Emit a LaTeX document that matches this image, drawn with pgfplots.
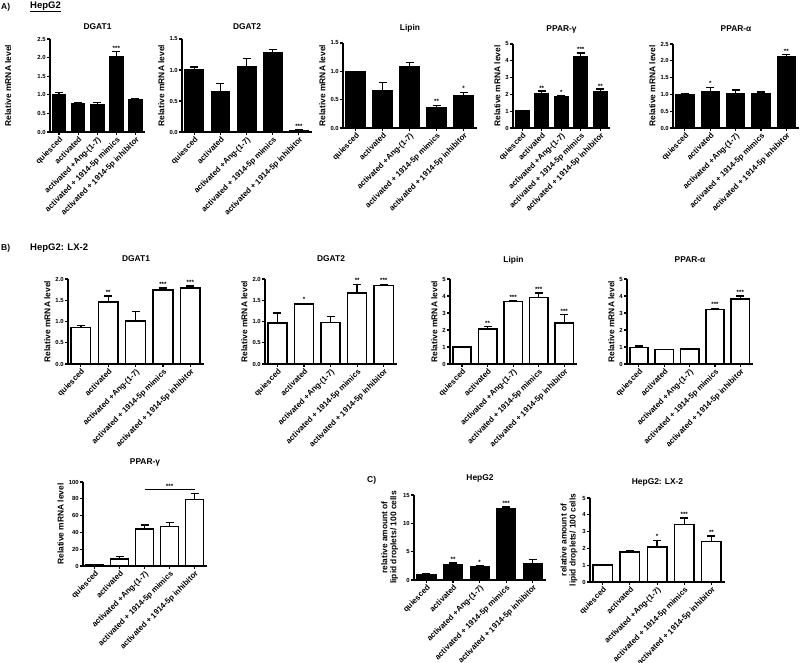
\documentclass[border=0pt]{standalone}
\usepackage{fontspec}
\setmainfont{Liberation Sans}
\usepackage{pgfplots}
\pgfplotsset{compat=1.18}
\newcommand{\st}[3]{\node[anchor=south,font=\fontsize{6.2}{6}\selectfont\bfseries,inner sep=0.6pt] at (axis cs:#1,#2) {#3};}
\pgfplotsset{
 gp/.style={
  scale only axis,
  anchor=south west,
  axis lines=left,
  axis line style={line width=1.4pt,-},
  every tick/.style={black,line width=1.1pt},
  tick align=outside,
  major tick length=2.6pt,
  xmin=-0.47, xmax=4.5, ymin=0,
  xtick={0,1,2,3,4},
  xticklabels={quiesced,activated,activated +Ang-(1-7),activated + 1914-5p mimics,activated + 1914-5p inhibitor},
  x tick label style={rotate=45,anchor=north east,font=\fontsize{7.9}{8}\selectfont\bfseries,inner sep=1pt},
  y tick label style={font=\fontsize{5.9}{6}\selectfont\bfseries,inner sep=1.5pt},
  /pgf/number format/assume math mode=true,
  ylabel={Relative mRNA level},
  ylabel style={font=\fontsize{8.4}{9}\selectfont\bfseries},
  title style={font=\fontsize{8.4}{9}\selectfont\bfseries,anchor=base,at={(0.5,1)}},
  clip=false,
  bar width=0.72,
 },
 ty/.style={title style={yshift=#1}},
 dec1/.style={yticklabel style={/pgf/number format/.cd,fixed,fixed zerofill,precision=1}},
 blk/.style={ybar,fill=black,draw=black,line width=1pt},
 wht/.style={ybar,fill=white,draw=black,line width=1.5pt},
 eb/.style={forget plot,draw=none,mark=none,
   error bars/.cd,y dir=plus,y explicit,
   error bar style={draw=black,line width=1.4pt,solid},
   error mark options={rotate=90,draw=black,line width=1.4pt,mark size=4pt,solid}},
}
\begin{document}
\begin{tikzpicture}
\path[use as bounding box] (0pt,0pt) rectangle (800pt,662pt);
\node[anchor=west,font=\fontsize{8.5}{9}\selectfont\bfseries,inner sep=0pt] at (1pt,655pt) {A)};
\node[anchor=west,font=\fontsize{9.5}{10}\selectfont\bfseries,inner sep=0pt] at (30pt,655pt) {\underline{HepG2}};
\node[anchor=west,font=\fontsize{8.5}{9}\selectfont\bfseries,inner sep=0pt] at (1pt,414pt) {B)};
\node[anchor=west,font=\fontsize{9.5}{10}\selectfont\bfseries,inner sep=0pt] at (30pt,414pt) {HepG2: LX-2};
\node[anchor=west,font=\fontsize{8.5}{9}\selectfont\bfseries,inner sep=0pt] at (367pt,182pt) {C)};

% ---------- A ----------
\begin{axis}[gp,dec1,ty=3pt,at={(50pt,530pt)},width=95pt,height=93pt,ymax=2.5,ytick={0,0.5,1,1.5,2,2.5},title={DGAT1},
  ylabel style={at={(axis description cs:-0.37,0.5)}}]
\addplot[blk] coordinates {(0,1.00) (1,0.76) (2,0.74) (3,2.02) (4,0.87)};
\addplot[eb] coordinates {(0,1.00) +- (0,0.06) (1,0.76) +- (0,0.03) (2,0.74) +- (0,0.05) (3,2.02) +- (0,0.14) (4,0.87) +- (0,0.03)};
\st{3}{2.17}{***}
\end{axis}

\begin{axis}[gp,dec1,ty=3pt,at={(182pt,530pt)},width=130pt,height=93pt,ymax=1.5,ytick={0,0.5,1,1.5},title={DGAT2}]
\addplot[blk] coordinates {(0,1.00) (1,0.65) (2,1.06) (3,1.28) (4,0.02)};
\addplot[eb] coordinates {(0,1.00) +- (0,0.05) (1,0.65) +- (0,0.13) (2,1.06) +- (0,0.13) (3,1.28) +- (0,0.05) (4,0.02) +- (0,0.01)};
\st{4}{0.04}{***}
\end{axis}

\begin{axis}[gp,dec1,ty=6pt,at={(343pt,534pt)},width=134pt,height=85pt,ymax=1.5,ytick={0,0.5,1,1.5},title={Lipin}]
\addplot[blk] coordinates {(0,1.00) (1,0.66) (2,1.09) (3,0.37) (4,0.58)};
\addplot[eb] coordinates {(0,1.00) +- (0,0) (1,0.66) +- (0,0.14) (2,1.09) +- (0,0.07) (3,0.37) +- (0,0.03) (4,0.58) +- (0,0.05)};
\st{3}{0.41}{**}
\st{4}{0.64}{*}
\end{axis}

\begin{axis}[gp,ty=6pt,at={(513pt,534pt)},width=97pt,height=84pt,ymax=5,ytick={0,1,2,3,4,5},title={PPAR-γ}]
\addplot[blk] coordinates {(0,1.03) (1,2.08) (2,1.88) (3,4.25) (4,2.17)};
\addplot[eb] coordinates {(0,1.03) +- (0,0.02) (1,2.08) +- (0,0.12) (2,1.88) +- (0,0.04) (3,4.25) +- (0,0.22) (4,2.17) +- (0,0.15)};
\st{1}{2.21}{**}
\st{2}{1.93}{*}
\st{3}{4.48}{***}
\st{4}{2.33}{**}
\end{axis}

\begin{axis}[gp,dec1,ty=6pt,at={(673pt,534pt)},width=126pt,height=84pt,ymax=2.5,ytick={0,0.5,1,1.5,2,2.5},title={PPAR-α}]
\addplot[blk] coordinates {(0,1.00) (1,1.09) (2,1.04) (3,1.03) (4,2.12)};
\addplot[eb] coordinates {(0,1.00) +- (0,0.03) (1,1.09) +- (0,0.12) (2,1.04) +- (0,0.09) (3,1.03) +- (0,0.04) (4,2.12) +- (0,0.07)};
\st{1}{1.23}{*}
\st{4}{2.20}{**}
\end{axis}

% ---------- B ----------
\begin{axis}[gp,dec1,ty=11pt,at={(68pt,298pt)},width=136pt,height=85pt,ymax=2,ytick={0,0.5,1,1.5,2},title={DGAT1}]
\addplot[wht] coordinates {(0,0.86) (1,1.46) (2,1.01) (3,1.74) (4,1.79)};
\addplot[eb] coordinates {(0,0.86) +- (0,0.05) (1,1.46) +- (0,0.14) (2,1.01) +- (0,0.22) (3,1.74) +- (0,0.05) (4,1.79) +- (0,0.05)};
\st{1}{1.62}{**}
\st{3}{1.81}{***}
\st{4}{1.86}{***}
\end{axis}

\begin{axis}[gp,dec1,ty=11pt,at={(265pt,298pt)},width=132pt,height=85pt,ymax=2,ytick={0,0.5,1,1.5,2},title={DGAT2}]
\addplot[wht] coordinates {(0,0.97) (1,1.41) (2,0.98) (3,1.67) (4,1.85)};
\addplot[eb] coordinates {(0,0.97) +- (0,0.23) (1,1.41) +- (0,0.02) (2,0.98) +- (0,0.14) (3,1.67) +- (0,0.20) (4,1.85) +- (0,0.02)};
\st{1}{1.45}{*}
\st{3}{1.89}{**}
\st{4}{1.89}{***}
\end{axis}

\begin{axis}[gp,ty=11pt,at={(450pt,298pt)},width=127pt,height=85pt,ymax=5,ytick={0,1,2,3,4,5},title={Lipin}]
\addplot[wht] coordinates {(0,1.00) (1,2.07) (2,3.69) (3,3.90) (4,2.40)};
\addplot[eb] coordinates {(0,1.00) +- (0,0.04) (1,2.07) +- (0,0.12) (2,3.69) +- (0,0.03) (3,3.90) +- (0,0.28) (4,2.40) +- (0,0.50)};
\st{1}{2.22}{**}
\st{2}{3.75}{***}
\st{3}{4.21}{***}
\st{4}{2.93}{***}
\end{axis}

\begin{axis}[gp,ty=11pt,at={(627pt,298pt)},width=126pt,height=85pt,ymax=5,ytick={0,1,2,3,4,5},title={PPAR-α}]
\addplot[wht] coordinates {(0,0.97) (1,0.84) (2,0.87) (3,3.22) (4,3.82)};
\addplot[eb] coordinates {(0,0.97) +- (0,0.10) (1,0.84) +- (0,0.02) (2,0.87) +- (0,0.01) (3,3.22) +- (0,0.06) (4,3.82) +- (0,0.17)};
\st{3}{3.31}{***}
\st{4}{4.02}{***}
\end{axis}

\begin{axis}[gp,ty=12pt,at={(83pt,96pt)},width=124pt,height=84pt,ymax=100,ytick={0,20,40,60,80,100},title={PPAR-γ}]
\addplot[wht] coordinates {(0,1.0) (1,8.5) (2,44) (3,47) (4,79)};
\addplot[eb] coordinates {(0,1.0) +- (0,0.2) (1,8.5) +- (0,2.5) (2,44) +- (0,5) (3,47) +- (0,5) (4,79) +- (0,7)};
\draw[line width=0.9pt] (axis cs:2,91) -- (axis cs:4,91);
\st{3}{91.5}{***}
\end{axis}

% ---------- C ----------
\begin{axis}[gp,ty=9pt,at={(414pt,82pt)},width=132pt,height=85pt,ymax=15,ytick={0,5,10,15},title={HepG2},
  ylabel={relative amount of\\lipid droplets/ 100 cells},ylabel style={align=center}]
\addplot[blk] coordinates {(0,1.0) (1,2.7) (2,2.35) (3,12.7) (4,2.9)};
\addplot[eb] coordinates {(0,1.0) +- (0,0.05) (1,2.7) +- (0,0.3) (2,2.35) +- (0,0.15) (3,12.7) +- (0,0.15) (4,2.9) +- (0,0.7)};
\st{1}{3.1}{**}
\st{2}{2.6}{*}
\st{3}{12.95}{***}
\end{axis}

\begin{axis}[gp,ty=8pt,at={(590pt,80pt)},width=135pt,height=84pt,ymax=5,ytick={0,1,2,3,4,5},title={HepG2: LX-2},
  ylabel={relative amount of\\lipid droplets/ 100 cells},ylabel style={align=center}]
\addplot[wht] coordinates {(0,1.02) (1,1.80) (2,2.08) (3,3.42) (4,2.40)};
\addplot[eb] coordinates {(0,1.02) +- (0,0.03) (1,1.80) +- (0,0.06) (2,2.08) +- (0,0.40) (3,3.42) +- (0,0.38) (4,2.40) +- (0,0.33)};
\st{2}{2.52}{*}
\st{3}{3.84}{***}
\st{4}{2.77}{**}
\end{axis}
\end{tikzpicture}
\end{document}
